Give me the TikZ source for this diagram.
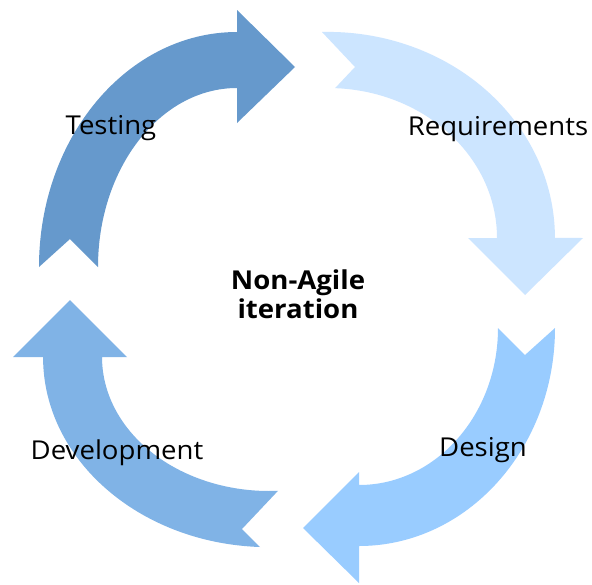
\documentclass[tikz,border=0pt]{standalone}
\usepackage{fontspec}
\setmainfont[FakeStretch=1.06]{Open Sans}
\definecolor{testc}{HTML}{6699CC}
\definecolor{reqc}{HTML}{CCE5FF}
\definecolor{desc}{HTML}{99CCFF}
\definecolor{devc}{HTML}{80B3E6}
\begin{document}
\begin{tikzpicture}[x=1pt,y=1pt,
  lab/.style={font=\fontsize{26}{30}\selectfont, anchor=base, inner sep=0pt, text=black},
  ctr/.style={font=\fontsize{26}{30}\selectfont\bfseries, anchor=base, inner sep=0pt, text=black}]
\useasboundingbox (0,0) rectangle (592,-584);
\fill[white] (0,0) rectangle (592,-584);
% Testing arrow
\fill[testc] (39,-267) arc[start angle=180,end angle=90,x radius=198,y radius=235]
  -- (237,-10) -- (295,-67) -- (237,-123) -- (237,-88)
  arc[start angle=90,end angle=180,x radius=139,y radius=179] -- (70,-239) -- cycle;
% Requirements arrow
\fill[reqc] (322,-32) arc[start angle=91.5,end angle=0,x radius=227,y radius=206]
  -- (583,-238) -- (525,-295) -- (468,-238) -- (497,-238)
  arc[start angle=0,end angle=87.6,x radius=169,y radius=150] -- (355,-67) -- cycle;
% Design arrow
\fill[desc] (555,-328) arc[start angle=0,end angle=-90,x radius=196,y radius=218]
  -- (359,-583) -- (303,-528) -- (359,-472) -- (359,-485)
  arc[start angle=-90,end angle=0,x radius=139,y radius=157] -- (525,-355) -- cycle;
% Development arrow
\fill[devc] (260,-547) arc[start angle=-92.3,end angle=-180,x radius=226,y radius=190]
  -- (13,-357) -- (70,-300) -- (127,-357) -- (102,-357)
  arc[start angle=-180,end angle=-86.9,x radius=167,y radius=134] -- (242,-529) -- cycle;
% Labels
\node[lab] (testing) at (111,-134) {Testing};
\node[lab] (req) at (498,-135) {Requirements};
\node[lab] (design) at (483,-456) {Design};
\node[lab] (dev) at (117,-459) {Development};
\node[ctr] (ctra) at (298,-289) {Non-Agile};
\node[ctr] (ctrb) at (298,-318) {iteration};
\end{tikzpicture}
\end{document}
